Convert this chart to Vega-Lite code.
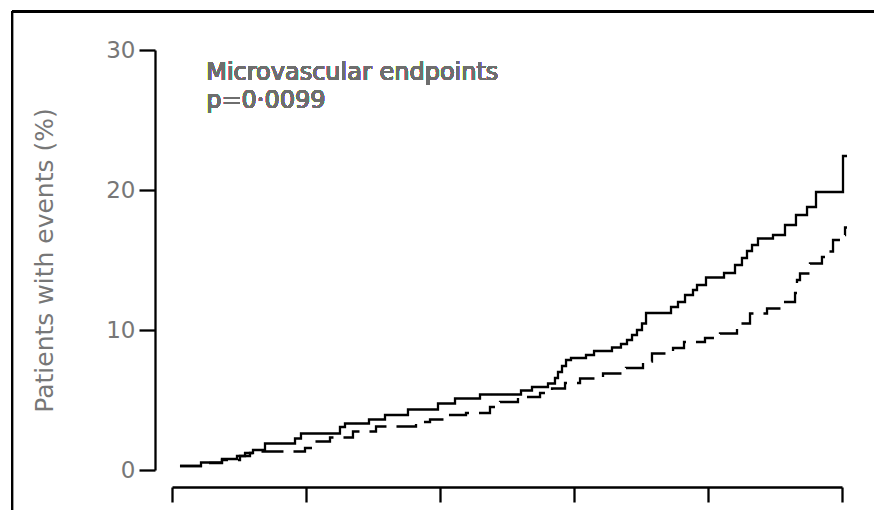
{
  "$schema": "https://vega.github.io/schema/vega-lite/v6.json",
  "width": 670,
  "height": 420,
  "autosize": {"type": "none"},
  "padding": {"left": 172, "top": 50, "right": 32, "bottom": 40},
  "background": "white",
  "config": {"view": {"stroke": null}, "font": "DejaVu Sans"},
  "data": {"values": [
    {"arm": "Less tight control", "t": 0.119, "pct": 0.286},
    {"arm": "Less tight control", "t": 0.433, "pct": 0.536},
    {"arm": "Less tight control", "t": 0.746, "pct": 0.786},
    {"arm": "Less tight control", "t": 0.970, "pct": 1.0},
    {"arm": "Less tight control", "t": 1.090, "pct": 1.214},
    {"arm": "Less tight control", "t": 1.209, "pct": 1.429},
    {"arm": "Less tight control", "t": 1.388, "pct": 1.893},
    {"arm": "Less tight control", "t": 1.836, "pct": 2.25},
    {"arm": "Less tight control", "t": 1.925, "pct": 2.607},
    {"arm": "Less tight control", "t": 2.507, "pct": 3.071},
    {"arm": "Less tight control", "t": 2.582, "pct": 3.321},
    {"arm": "Less tight control", "t": 2.940, "pct": 3.607},
    {"arm": "Less tight control", "t": 3.179, "pct": 3.929},
    {"arm": "Less tight control", "t": 3.522, "pct": 4.321},
    {"arm": "Less tight control", "t": 3.970, "pct": 4.75},
    {"arm": "Less tight control", "t": 4.224, "pct": 5.107},
    {"arm": "Less tight control", "t": 4.597, "pct": 5.393},
    {"arm": "Less tight control", "t": 5.209, "pct": 5.679},
    {"arm": "Less tight control", "t": 5.373, "pct": 5.929},
    {"arm": "Less tight control", "t": 5.612, "pct": 6.179},
    {"arm": "Less tight control", "t": 5.716, "pct": 6.571},
    {"arm": "Less tight control", "t": 5.761, "pct": 7.0},
    {"arm": "Less tight control", "t": 5.821, "pct": 7.429},
    {"arm": "Less tight control", "t": 5.881, "pct": 7.857},
    {"arm": "Less tight control", "t": 5.955, "pct": 8.0},
    {"arm": "Less tight control", "t": 6.179, "pct": 8.214},
    {"arm": "Less tight control", "t": 6.299, "pct": 8.5},
    {"arm": "Less tight control", "t": 6.567, "pct": 8.75},
    {"arm": "Less tight control", "t": 6.701, "pct": 9.0},
    {"arm": "Less tight control", "t": 6.791, "pct": 9.286},
    {"arm": "Less tight control", "t": 6.866, "pct": 9.643},
    {"arm": "Less tight control", "t": 6.940, "pct": 10.0},
    {"arm": "Less tight control", "t": 7.015, "pct": 10.464},
    {"arm": "Less tight control", "t": 7.075, "pct": 11.214},
    {"arm": "Less tight control", "t": 7.448, "pct": 11.643},
    {"arm": "Less tight control", "t": 7.552, "pct": 12.0},
    {"arm": "Less tight control", "t": 7.657, "pct": 12.5},
    {"arm": "Less tight control", "t": 7.776, "pct": 12.857},
    {"arm": "Less tight control", "t": 7.836, "pct": 13.214},
    {"arm": "Less tight control", "t": 7.970, "pct": 13.75},
    {"arm": "Less tight control", "t": 8.239, "pct": 14.071},
    {"arm": "Less tight control", "t": 8.403, "pct": 14.643},
    {"arm": "Less tight control", "t": 8.507, "pct": 15.143},
    {"arm": "Less tight control", "t": 8.582, "pct": 15.643},
    {"arm": "Less tight control", "t": 8.657, "pct": 16.071},
    {"arm": "Less tight control", "t": 8.746, "pct": 16.536},
    {"arm": "Less tight control", "t": 8.970, "pct": 16.786},
    {"arm": "Less tight control", "t": 9.149, "pct": 17.5},
    {"arm": "Less tight control", "t": 9.313, "pct": 18.214},
    {"arm": "Less tight control", "t": 9.478, "pct": 18.786},
    {"arm": "Less tight control", "t": 9.612, "pct": 19.857},
    {"arm": "Less tight control", "t": 10.015, "pct": 22.429},
    {"arm": "Less tight control", "t": 10.075, "pct": 22.429},
    {"arm": "Tight control", "t": 0.119, "pct": 0.286},
    {"arm": "Tight control", "t": 0.448, "pct": 0.5},
    {"arm": "Tight control", "t": 0.746, "pct": 0.714},
    {"arm": "Tight control", "t": 1.015, "pct": 1.0},
    {"arm": "Tight control", "t": 1.164, "pct": 1.214},
    {"arm": "Tight control", "t": 1.284, "pct": 1.321},
    {"arm": "Tight control", "t": 1.985, "pct": 1.571},
    {"arm": "Tight control", "t": 2.134, "pct": 2.036},
    {"arm": "Tight control", "t": 2.358, "pct": 2.321},
    {"arm": "Tight control", "t": 2.701, "pct": 2.75},
    {"arm": "Tight control", "t": 3.045, "pct": 3.107},
    {"arm": "Tight control", "t": 3.642, "pct": 3.429},
    {"arm": "Tight control", "t": 3.851, "pct": 3.607},
    {"arm": "Tight control", "t": 4.090, "pct": 3.929},
    {"arm": "Tight control", "t": 4.388, "pct": 4.071},
    {"arm": "Tight control", "t": 4.746, "pct": 4.5},
    {"arm": "Tight control", "t": 4.896, "pct": 4.857},
    {"arm": "Tight control", "t": 5.164, "pct": 5.214},
    {"arm": "Tight control", "t": 5.493, "pct": 5.5},
    {"arm": "Tight control", "t": 5.672, "pct": 5.821},
    {"arm": "Tight control", "t": 5.866, "pct": 6.214},
    {"arm": "Tight control", "t": 6.090, "pct": 6.536},
    {"arm": "Tight control", "t": 6.433, "pct": 6.893},
    {"arm": "Tight control", "t": 6.776, "pct": 7.286},
    {"arm": "Tight control", "t": 7.030, "pct": 7.75},
    {"arm": "Tight control", "t": 7.164, "pct": 8.321},
    {"arm": "Tight control", "t": 7.478, "pct": 8.714},
    {"arm": "Tight control", "t": 7.642, "pct": 9.143},
    {"arm": "Tight control", "t": 7.955, "pct": 9.429},
    {"arm": "Tight control", "t": 8.179, "pct": 9.75},
    {"arm": "Tight control", "t": 8.433, "pct": 10.464},
    {"arm": "Tight control", "t": 8.627, "pct": 11.179},
    {"arm": "Tight control", "t": 8.881, "pct": 11.536},
    {"arm": "Tight control", "t": 9.104, "pct": 12.0},
    {"arm": "Tight control", "t": 9.299, "pct": 12.643},
    {"arm": "Tight control", "t": 9.328, "pct": 13.571},
    {"arm": "Tight control", "t": 9.373, "pct": 14.036},
    {"arm": "Tight control", "t": 9.522, "pct": 14.75},
    {"arm": "Tight control", "t": 9.701, "pct": 15.214},
    {"arm": "Tight control", "t": 9.791, "pct": 15.607},
    {"arm": "Tight control", "t": 9.866, "pct": 16.429},
    {"arm": "Tight control", "t": 10.0, "pct": 16.786},
    {"arm": "Tight control", "t": 10.045, "pct": 17.321},
    {"arm": "Tight control", "t": 10.075, "pct": 17.321}
  ]},
  "layer": [
    {
      "mark": {"type": "rule", "color": "black", "strokeWidth": 2, "clip": false},
      "encoding": {
        "x": {"datum": -2.388, "type": "quantitative", "scale": {"domain": [0, 10]}},
        "x2": {"datum": 10.6},
        "y": {"datum": 32.74, "type": "quantitative", "scale": {"domain": [0, 30]}}
      }
    },
    {
      "mark": {"type": "rule", "color": "black", "strokeWidth": 2, "clip": false},
      "encoding": {
        "x": {"datum": -2.388, "type": "quantitative", "scale": {"domain": [0, 10]}},
        "y": {"datum": 32.74, "type": "quantitative", "scale": {"domain": [0, 30]}},
        "y2": {"datum": -3}
      }
    },
    {
      "mark": {"type": "line", "interpolate": "step-after", "color": "black", "strokeWidth": 2.3, "clip": false},
      "encoding": {
        "x": {
          "field": "t", "type": "quantitative",
          "scale": {"domain": [0, 10], "nice": false, "zero": false},
          "axis": {
            "values": [0, 2, 4, 6, 8, 10], "labels": false, "title": null, "grid": false,
            "offset": 17, "tickSize": 15, "tickWidth": 2.3, "domainWidth": 2.3,
            "tickColor": "black", "domainColor": "black"
          }
        },
        "y": {
          "field": "pct", "type": "quantitative",
          "scale": {"domain": [0, 30], "nice": false},
          "axis": {
            "values": [0, 10, 20, 30], "grid": false, "offset": 17, "tickSize": 16,
            "tickWidth": 2.3, "domainWidth": 2.3, "tickColor": "black", "domainColor": "black",
            "labelFontSize": 23, "labelColor": "#777777", "labelPadding": 4,
            "title": "Patients with events (%)", "titleFontSize": 25, "titleFontWeight": "normal",
            "titleColor": "#777777", "titlePadding": 48
          }
        },
        "strokeDash": {
          "field": "arm", "type": "nominal",
          "scale": {"domain": ["Less tight control", "Tight control"], "range": [[1, 0], [22, 10]]},
          "legend": null
        }
      }
    },
    {
      "mark": {"type": "text", "text": ["Microvascular endpoints", "p=0·0099"], "align": "left", "baseline": "alphabetic", "fontSize": 24, "lineHeight": 28, "color": "#6e6e6e"},
      "encoding": {
        "x": {"datum": 0.51, "type": "quantitative", "scale": {"domain": [0, 10]}},
        "y": {"datum": 27.86, "type": "quantitative", "scale": {"domain": [0, 30]}}
      }
    }
  ]
}
